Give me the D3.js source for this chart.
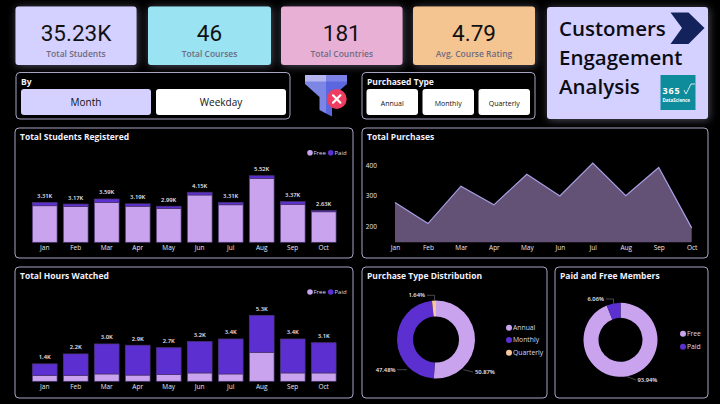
<!DOCTYPE html>
<html>
<head>
<meta charset="utf-8">
<script src="https://cdn.jsdelivr.net/npm/d3@7"></script>
<style>
  html, body { margin: 0; padding: 0; background: #000; overflow: hidden; }
  svg { display: block; }
  text { font-family: "Open Sans", sans-serif; }
</style>
</head>
<body>
<svg id="chart" width="720" height="404"></svg>
<script>
const months = ['Jan', 'Feb', 'Mar', 'Apr', 'May', 'Jun', 'Jul', 'Aug', 'Sep', 'Oct']

const studentsFree = [3.03, 2.97, 3.31, 2.99, 2.79, 3.92, 3.11, 5.30, 3.15, 2.53]
const studentsPaid = [0.28, 0.20, 0.28, 0.20, 0.20, 0.23, 0.20, 0.22, 0.22, 0.10]

const hoursFree = [0.48, 0.48, 0.59, 0.50, 0.54, 0.67, 0.59, 2.33, 0.67, 0.67]
const hoursPaid = [0.92, 1.72, 2.41, 2.40, 2.16, 2.53, 2.81, 2.97, 2.73, 2.43]

const purchases = [278, 209, 331, 270, 370, 299, 406, 300, 392, 195]
const purchaseTicks = [200, 300, 400]

const purchaseTypes = ['Annual', 'Monthly', 'Quarterly']
const purchaseShares = [50.87, 47.48, 1.64]
const memberTypes = ['Free', 'Paid']
const memberShares = [93.94, 6.06]

const kpiValues = ['35.23K', '46', '181', '4.79']
const kpiLabels = ['Total Students', 'Total Courses', 'Total Countries', 'Avg. Course Rating']
const titleLines = ['Customers', 'Engagement', 'Analysis']
const byOptions = ['Month', 'Weekday']
const typeOptions = ['Annual', 'Monthly', 'Quarterly']

const FREE = '#c9a3ee', PAID = '#5b2fd0', QUARTERLY = '#f8c89a'
const BORDER = '#a8a4c4', LILAC = '#d4d0ff'

const svg = d3.select('#chart')

const defs = svg.append('defs')
const glow = defs.append('filter').attr('id', 'glow')
    .attr('x', '-15%').attr('y', '-25%').attr('width', '130%').attr('height', '150%')
glow.append('feDropShadow')
    .attr('dx', 1).attr('dy', 1).attr('stdDeviation', 4)
    .attr('flood-color', '#56546a').attr('flood-opacity', 0.9)

svg.append('rect').attr('width', 720).attr('height', 404).attr('fill', '#000')

function panel(x0, y0, x1, y1, title) {
    svg.append('rect')
        .attr('x', x0).attr('y', y0)
        .attr('width', x1 - x0).attr('height', y1 - y0)
        .attr('rx', 4)
        .attr('fill', '#000')
        .attr('stroke', BORDER)
        .attr('stroke-width', 1)
    if(title)
        svg.append('text')
            .attr('x', x0 + 5).attr('y', y0 + 12)
            .attr('fill', '#f2f0ff')
            .attr('font-size', 8.5)
            .attr('font-weight', 700)
            .text(title)
}

// kpi cards
const kpiX = [[15.5, 136.5], [148, 271], [281, 402.5], [413, 535]]
const kpiFill = [LILAC, '#9ae3f2', '#e9b0d6', '#f5c591']

const kpi = svg.selectAll('g.kpi').data(kpiValues).enter().append('g').attr('class', 'kpi')

kpi.append('rect')
    .attr('x', (d, i) => kpiX[i][0]).attr('y', 6.5)
    .attr('width', (d, i) => kpiX[i][1] - kpiX[i][0]).attr('height', 58.5)
    .attr('rx', 3)
    .attr('fill', (d, i) => kpiFill[i])
    .attr('filter', 'url(#glow)')

kpi.append('text')
    .attr('x', (d, i) => (kpiX[i][0] + kpiX[i][1]) / 2).attr('y', 41)
    .attr('text-anchor', 'middle')
    .attr('fill', '#111')
    .attr('font-size', 22.5)
    .style('font-family', 'Roboto')
    .text(d => d)

kpi.append('text')
    .attr('x', (d, i) => (kpiX[i][0] + kpiX[i][1]) / 2).attr('y', 57)
    .attr('text-anchor', 'middle')
    .attr('fill', '#6e6b80')
    .attr('font-size', 8.5)
    .attr('font-weight', 600)
    .text((d, i) => kpiLabels[i])

// title card
svg.append('rect')
    .attr('x', 547).attr('y', 7).attr('width', 161).attr('height', 112)
    .attr('rx', 3).attr('fill', LILAC).attr('filter', 'url(#glow)')

svg.selectAll('text.title').data(titleLines).enter().append('text')
    .attr('class', 'title')
    .attr('x', 559)
    .attr('y', (d, i) => 36 + i * 29)
    .attr('fill', '#0c0c14')
    .attr('font-size', 20.5)
    .attr('font-weight', 600)
    .text(d => d)

svg.append('path')
    .attr('d', 'M670.5,12.5 L688.5,12.5 L704.5,28 L688.5,44 L670.5,44 L682,28 Z')
    .attr('fill', '#14225c')

// logo
svg.append('rect').attr('x', 660.5).attr('y', 75).attr('width', 35).attr('height', 35).attr('fill', '#0f8c9c')
svg.append('text').attr('x', 662.5).attr('y', 93.5).attr('fill', '#fff')
    .attr('font-size', 9).attr('font-weight', 700).attr('letter-spacing', 0.8).text('365')
svg.append('path').attr('d', 'M684,90 L686,94 L691,84 L695,84')
    .attr('fill', 'none').attr('stroke', '#fff').attr('stroke-width', 0.8)
svg.append('text').attr('x', 662.5).attr('y', 101.5).attr('fill', '#fff')
    .attr('font-size', 4.5).attr('font-weight', 700).text('DataScience')

// slicers
function button(x, w, label, fill, size) {
    svg.append('rect')
        .attr('x', x).attr('y', 89).attr('width', w).attr('height', 26)
        .attr('rx', 3).attr('fill', fill)
    svg.append('text')
        .attr('x', x + w / 2).attr('y', 106)
        .attr('text-anchor', 'middle')
        .attr('fill', '#111')
        .attr('font-size', size)
        .text(label)
}

panel(16, 72.5, 290, 119)
svg.append('text').attr('x', 21).attr('y', 85).attr('fill', '#f2f0ff')
    .attr('font-size', 8.5).attr('font-weight', 700).text('By')
byOptions.forEach((d, i) => button(21 + i * 135, 130, d, i == 0 ? LILAC : '#fff', 10))

panel(362, 72.5, 535, 119)
svg.append('text').attr('x', 367).attr('y', 85).attr('fill', '#f2f0ff')
    .attr('font-size', 8.5).attr('font-weight', 700).text('Purchased Type')
typeOptions.forEach((d, i) => button(366.5 + i * 56, 51.5, d, '#fff', 7))

// clear filter icon
const funnel = svg.append('g')
funnel.append('path').attr('d', 'M305,75 H326 V113.5 L319.5,110 V97 L305,84 Z').attr('fill', '#7c86e4')
funnel.append('path').attr('d', 'M326,75 H347 V84 L332,97 V116.5 L326,113.5 Z').attr('fill', '#5a67df')
funnel.append('rect').attr('x', 305).attr('y', 75).attr('width', 21).attr('height', 6.5).attr('fill', '#b5b5f0')
funnel.append('rect').attr('x', 326).attr('y', 75).attr('width', 21).attr('height', 6.5).attr('fill', '#7c82e8')
funnel.append('circle').attr('cx', 336.7).attr('cy', 99).attr('r', 10).attr('fill', '#ee3d60')
funnel.append('path').attr('d', 'M333,95.3 L340.4,102.7 M340.4,95.3 L333,102.7')
    .attr('stroke', '#fff').attr('stroke-width', 2.2).attr('stroke-linecap', 'round')

// chart panels
panel(15, 128, 353, 258, 'Total Students Registered')
panel(362, 128, 708, 258, 'Total Purchases')
panel(15, 267, 353, 398, 'Total Hours Watched')
panel(362, 267, 547, 398, 'Purchase Type Distribution')
panel(555, 267, 708, 398, 'Paid and Free Members')

function monthAxis(scale, y) {
    const g = svg.append('g')
        .attr('transform', `translate(0,${y})`)
        .call(d3.axisBottom(scale).tickSize(0).tickPadding(3))
    g.select('.domain').remove()
    g.selectAll('text')
        .attr('fill', '#e8e6f4')
        .attr('font-size', 6.5)
        .style('font-family', '"Open Sans", sans-serif')
}

function barLegend(y) {
    memberTypes.forEach((d, i) => {
        svg.append('circle').attr('cx', 310 + i * 20.7).attr('cy', y).attr('r', 2.8)
            .attr('fill', i == 0 ? FREE : PAID)
        svg.append('text').attr('x', 313.5 + i * 21).attr('y', y + 2.3)
            .attr('fill', '#dcd8ee').attr('font-size', 6).text(d)
    })
}

function stackedBars(lower, upper, lowerFill, upperFill, top, base, fmt) {
    const totals = months.map((d, i) => lower[i] + upper[i])

    const x = d3.scaleBand().domain(months).range([29.2, 339.2]).paddingInner(0.2).paddingOuter(0.1)
    const y = d3.scaleLinear().domain([0, d3.max(totals)]).range([base, top])

    const g = svg.append('g')

    g.selectAll('rect.lower').data(months).enter().append('rect')
        .attr('class', 'lower')
        .attr('x', d => x(d)).attr('width', x.bandwidth())
        .attr('y', (d, i) => y(lower[i]))
        .attr('height', (d, i) => base - y(lower[i]))
        .attr('fill', lowerFill)
        .attr('stroke', '#4b3470').attr('stroke-width', 0.7)

    g.selectAll('rect.upper').data(months).enter().append('rect')
        .attr('class', 'upper')
        .attr('x', d => x(d)).attr('width', x.bandwidth())
        .attr('y', (d, i) => y(totals[i]))
        .attr('height', (d, i) => y(lower[i]) - y(totals[i]))
        .attr('fill', upperFill)
        .attr('stroke', '#4b3470').attr('stroke-width', 0.7)

    g.selectAll('text').data(months).enter().append('text')
        .attr('x', d => x(d) + x.bandwidth() / 2)
        .attr('y', (d, i) => y(totals[i]) - 4.5)
        .attr('text-anchor', 'middle')
        .attr('fill', '#eeeaf8')
        .attr('font-size', 5.8)
        .attr('font-weight', 600)
        .text((d, i) => d3.format(fmt)(totals[i]) + 'K')

    monthAxis(x, base)
}

stackedBars(studentsFree, studentsPaid, FREE, PAID, 175.7, 242.3, '.2f')
barLegend(152.7)

stackedBars(hoursFree, hoursPaid, FREE, PAID, 315.3, 381.3, '.1f')
barLegend(292)

// area chart
const xArea = d3.scalePoint().domain(months).range([395, 691.7])
const yArea = d3.scaleLinear().domain([148, 400]).range([242.3, 165])

const area = d3.area()
    .x((d, i) => xArea(months[i]))
    .y0(yArea(148))
    .y1(d => yArea(d))

const line = d3.line()
    .x((d, i) => xArea(months[i]))
    .y(d => yArea(d))

svg.append('path').attr('d', area(purchases)).attr('fill', '#645276')
svg.append('path').attr('d', line(purchases))
    .attr('fill', 'none').attr('stroke', '#a9a0e4').attr('stroke-width', 1.2)

monthAxis(xArea, 242.3)

const yAxis = svg.append('g')
    .attr('transform', 'translate(377,0)')
    .call(d3.axisLeft(yArea).tickValues(purchaseTicks).tickSize(0).tickPadding(0))
yAxis.select('.domain').remove()
yAxis.selectAll('text')
    .attr('fill', '#e8e6f4')
    .attr('font-size', 6.5)
    .style('font-family', '"Open Sans", sans-serif')

// donuts
function donut(shares, colors, cx, cy, rOuter, rInner) {
    const pie = d3.pie().sort(null)
    const arc = d3.arc().innerRadius(rInner).outerRadius(rOuter)
    svg.append('g')
        .attr('transform', `translate(${cx},${cy})`)
        .selectAll('path').data(pie(shares)).enter().append('path')
        .attr('d', arc)
        .attr('fill', (d, i) => colors[i])
}

function callout(points, value, x, y, anchor) {
    svg.append('path').attr('d', d3.line()(points))
        .attr('fill', 'none').attr('stroke', '#77757f').attr('stroke-width', 0.6)
    svg.append('text')
        .attr('x', x).attr('y', y + 2)
        .attr('text-anchor', anchor)
        .attr('fill', '#eeeaf8')
        .attr('font-size', 5.8)
        .attr('font-weight', 600)
        .text(d3.format('.2f')(value) + '%')
}

function donutLegend(names, colors, cx, tx, ys) {
    names.forEach((d, i) => {
        svg.append('circle').attr('cx', cx).attr('cy', ys[i]).attr('r', 3).attr('fill', colors[i])
        svg.append('text').attr('x', tx).attr('y', ys[i] + 2.4)
            .attr('fill', '#dcd8ee').attr('font-size', 6.8).text(d)
    })
}

donut(purchaseShares, [FREE, PAID, QUARTERLY], 436, 339.5, 39, 23)
callout([[463.3, 369.7], [473, 372]], purchaseShares[0], 475, 372, 'start')
callout([[407, 369.7], [397, 369.7]], purchaseShares[1], 395.5, 369.7, 'end')
callout([[427, 295.3], [434.5, 295.3], [434.5, 300.5]], purchaseShares[2], 425, 295.3, 'end')
donutLegend(purchaseTypes, [FREE, PAID, QUARTERLY], 509, 513, [327.7, 340, 352.7])

donut(memberShares, [FREE, PAID], 620.5, 339.8, 37, 22)
callout([[606, 299], [613.5, 299], [613.5, 303.5]], memberShares[1], 604, 299, 'end')
callout([[627, 376.5], [636, 380]], memberShares[0], 637.5, 380, 'start')
donutLegend(memberTypes, [FREE, PAID], 683, 687, [333.7, 346.7])
</script>
</body>
</html>
